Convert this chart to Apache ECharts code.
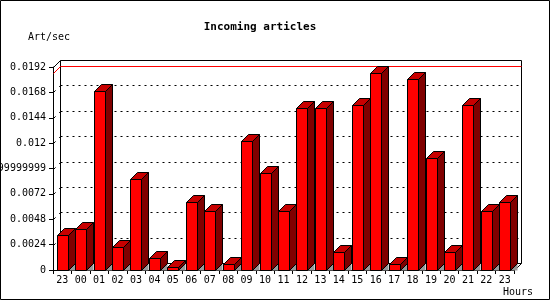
<!DOCTYPE html>
<html>
<head>
<meta charset="utf-8">
<script src="https://cdn.jsdelivr.net/npm/echarts@6/dist/echarts.min.js"></script>
<style>
html,body{margin:0;padding:0;background:#fff;}
#chart{width:550px;height:300px;}
</style>
</head>
<body>
<div id="chart"></div>
<script>
// ---- data ----
const hours = ['23','00','01','02','03','04','05','06','07','08','09','10','11','12','13','14','15','16','17','18','19','20','21','22','23'];
const artPerSec = [0.00333,0.00389,0.01694,0.00222,0.00861,0.00111,0.00028,0.00639,0.00556,0.00056,0.01222,0.00917,0.00556,0.01528,0.01528,0.00167,0.01556,0.01861,0.00056,0.01806,0.01056,0.00167,0.01556,0.00556,0.00639];
const yTicks = [0,0.0024,0.0048,0.0072,0.0096,0.012,0.0144,0.0168,0.0192];
const yTickLabels = ['0','0.0024','0.0048','0.0072','0.009599999999999999','0.012','0.0144','0.0168','0.0192'];
const titleText = 'Incoming articles';
const yName = 'Art/sec';
const xName = 'Hours';

const FONT = '"DejaVu Sans Mono", "Liberation Mono", monospace';
const FS = 10;
const D = 7; // 3D depth in px
const maxVal = Math.max.apply(null, artPerSec);

function px(v){ return Math.round(v) + 0.5; }

function renderBar(params, api){
  const i = api.value(0), v = api.value(1);
  const b = api.coord([i, 0]);
  const t = api.coord([i, v]);
  const bw = api.size([1, 0])[0];
  const w = Math.round(bw * 0.58);
  const l = px(b[0] - w / 2);
  const r = l + w;
  const base = px(b[1]);
  const top = px(t[1]);
  const stroke = {stroke:'#000', lineWidth:1};
  return {
    type:'group',
    children:[
      {type:'polygon', shape:{points:[[r,base],[r+D,base-D],[r+D,base]]}, style:{fill:'#999999', stroke:'#999999', lineWidth:0}},
      {type:'polygon', shape:{points:[[r,top],[r+D,top-D],[r+D,base-D],[r,base]]}, style:Object.assign({fill:'#800000'}, stroke)},
      {type:'polygon', shape:{points:[[l,top],[l+D,top-D],[r+D,top-D],[r,top]]}, style:Object.assign({fill:'#c80000'}, stroke)},
      {type:'rect', shape:{x:l, y:top, width:w, height:base-top}, style:Object.assign({fill:'#ff0000'}, stroke)}
    ]
  };
}

function renderBack(params, api){
  const cs = params.coordSys;
  const x0 = px(cs.x), x1 = px(cs.x + cs.width);
  const y0 = px(cs.y), y1 = px(cs.y + cs.height);
  const children = [];
  children.push({type:'rect', shape:{x:x0+D, y:y0-D, width:x1-x0, height:y1-y0}, style:{fill:'#fff', stroke:'#000', lineWidth:1}});
  yTicks.forEach(function(v){
    if (v === 0 || v === yTicks[yTicks.length-1]) return;
    const y = px(api.coord([0, v])[1]);
    children.push({type:'line', shape:{x1:x0+D, y1:y-D, x2:x1+D, y2:y-D}, style:{stroke:'#000', lineWidth:1, lineDash:[2,4]}});
    children.push({type:'line', shape:{x1:x0, y1:y, x2:x0+D, y2:y-D}, style:{stroke:'#000', lineWidth:1, lineDash:[3,5]}});
  });
  const ym = px(api.coord([0, maxVal])[1]);
  children.push({type:'line', shape:{x1:x0+D, y1:ym-D, x2:x1+D, y2:ym-D}, style:{stroke:'#ff0000', lineWidth:1}});
  children.push({type:'line', shape:{x1:x0, y1:ym, x2:x0+D, y2:ym-D}, style:{stroke:'#ff0000', lineWidth:1}});
  children.push({type:'line', shape:{x1:x0, y1:y0, x2:x0+D, y2:y0-D}, style:{stroke:'#000', lineWidth:1}});
  children.push({type:'line', shape:{x1:x1, y1:y1, x2:x1+D, y2:y1-D}, style:{stroke:'#000', lineWidth:1}});
  return {type:'group', children:children};
}

const chart = echarts.init(document.getElementById('chart'), null, {renderer:'canvas'});
chart.setOption({
  animation:false,
  backgroundColor:'#ffffff',
  grid:{left:53, right:36, top:67, bottom:30, containLabel:false, outerBoundsMode:'none'},
  xAxis:{
    type:'category',
    data:hours,
    boundaryGap:true,
    axisLine:{show:true, lineStyle:{color:'#000', width:1}},
    axisTick:{show:true, length:4, alignWithLabel:false, interval:0, lineStyle:{color:'#000'}},
    axisLabel:{interval:0, margin:5, color:'#000', fontFamily:FONT, fontSize:FS},
    splitLine:{show:false}
  },
  yAxis:{
    type:'value',
    min:0, max:0.0192, interval:0.0024,
    axisLine:{show:true, lineStyle:{color:'#000', width:1}},
    axisTick:{show:true, length:4, lineStyle:{color:'#000'}},
    axisLabel:{margin:7, color:'#000', fontFamily:FONT, fontSize:FS,
      formatter:function(v){ const k = yTicks.findIndex(function(t){return Math.abs(t - v) < 1e-9;}); return k >= 0 ? yTickLabels[k] : ''; }},
    splitLine:{show:false}
  },
  graphic:[
    {type:'rect', shape:{x:0.5, y:0.5, width:549, height:299}, style:{fill:'none', stroke:'#000', lineWidth:1}, z:100},
    {type:'text', x:260, y:27, style:{text:titleText, font:'bold 11px ' + FONT, fill:'#000', align:'center', verticalAlign:'middle'}},
    {type:'text', x:28, y:37, style:{text:yName, font:FS + 'px ' + FONT, fill:'#000', align:'left', verticalAlign:'middle'}},
    {type:'text', x:533, y:292, style:{text:xName, font:FS + 'px ' + FONT, fill:'#000', align:'right', verticalAlign:'middle'}}
  ],
  series:[
    {type:'custom', renderItem:renderBack, data:[[0,0]], z:1, silent:true, clip:false},
    {type:'custom', renderItem:renderBar, data:artPerSec.map(function(v,i){return [i,v];}), z:5, silent:true, clip:false}
  ]
});
</script>
</body>
</html>
